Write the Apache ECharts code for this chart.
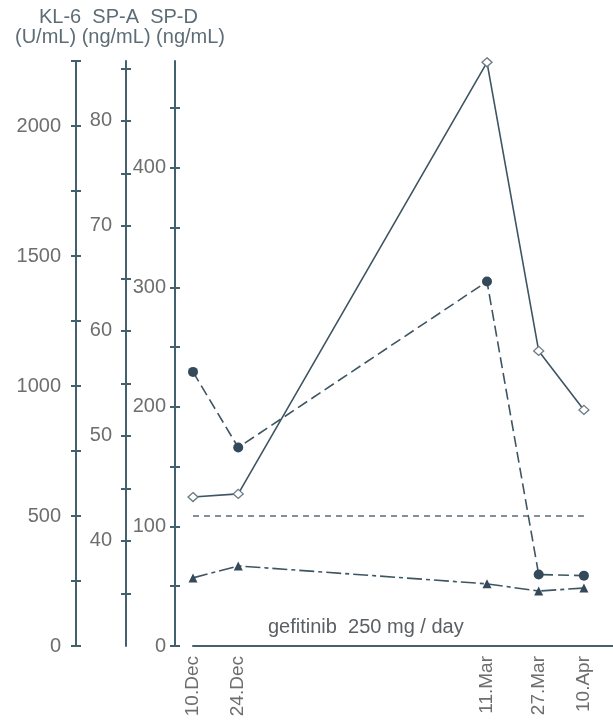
<!DOCTYPE html>
<html>
<head>
<meta charset="utf-8">
<title>KL-6 / SP-A / SP-D</title>
<script src="https://cdn.jsdelivr.net/npm/echarts/dist/echarts.min.js"></script>
<style>
  html, body { margin: 0; padding: 0; background: #fff; }
  #main { width: 613px; height: 727px; }
</style>
</head>
<body>
<div id="main"></div>
<script>
// sampling dates (days from 10.Dec) and their labels
const dateLabels = ['10.Dec', '24.Dec', '11.Mar', '27.Mar', '10.Apr'];
const dayOffsets = [0, 14, 91, 107, 121];

// series values
const kl6Values = [573, 585, 2245, 1135, 908];     // U/mL, open diamonds
const spAValues = [56.1, 48.9, 64.7, 36.8, 36.7];  // ng/mL, filled circles
const spDValues = [57, 67, 52, 46, 48.5];          // ng/mL, filled triangles
const kl6Cutoff = [500, 500];                      // reference line
const cutoffDays = [0, 121];

// axis ticks / labels
const kl6Ticks = [0, 250, 500, 750, 1000, 1250, 1500, 1750, 2000, 2250];
const kl6Labels = [0, 500, 1000, 1500, 2000];
const spATicks = [35, 40, 45, 50, 55, 60, 65, 70, 75, 80, 85];
const spALabels = [40, 50, 60, 70, 80];
const spDTicks = [0, 50, 100, 150, 200, 250, 300, 350, 400, 450];
const spDLabels = [0, 100, 200, 300, 400];

const axisColor = '#43606f';
const lineColor = '#3e5563';
const textColor = '#6e6e6e';
const fontFamily = 'Liberation Sans, Arial, sans-serif';

function pairs(xs, ys) {
  return xs.map((x, i) => [x, ys[i]]);
}

// main axis (line + labels + outer ticks) and a twin with inner ticks => "+" ticks
function yAxisPair(opt) {
  const base = {
    type: 'value',
    position: 'left',
    offset: opt.offset,
    min: opt.min,
    max: opt.max,
    splitLine: { show: false }
  };
  const main = Object.assign({}, base, {
    axisLine: { show: true, onZero: false, lineStyle: { color: axisColor, width: 2 } },
    axisTick: { show: true, inside: false, length: 5, customValues: opt.ticks, lineStyle: { color: axisColor, width: 2 } },
    axisLabel: {
      show: true, customValues: opt.labels, margin: opt.margin,
      color: textColor, fontSize: 20, fontFamily: fontFamily,
      formatter: function (v) { return String(v); }
    }
  });
  const twin = Object.assign({}, base, {
    axisLine: { show: false, onZero: false },
    axisTick: { show: true, inside: true, length: 5, customValues: opt.ticks, lineStyle: { color: axisColor, width: 2 } },
    axisLabel: { show: false }
  });
  return [main, twin];
}

const kl6Axes = yAxisPair({ offset: 117, min: 0, max: 2250, ticks: kl6Ticks, labels: kl6Labels, margin: 15 });
const spAAxes = yAxisPair({ offset: 67, min: 30, max: 85.7, ticks: spATicks, labels: spALabels, margin: 14 });
const spDAxes = yAxisPair({ offset: 18, min: 0, max: 489.5, ticks: spDTicks, labels: spDLabels, margin: 9 });

const chart = echarts.init(document.getElementById('main'));

const option = {
  animation: false,
  grid: { left: 193, right: 0, top: 61, bottom: 81, containLabel: false },
  xAxis: {
    type: 'value',
    min: 0,
    max: 130,
    splitLine: { show: false },
    axisLine: { show: true, onZero: false, lineStyle: { color: axisColor, width: 2 } },
    axisTick: { show: false },
    axisLabel: {
      customValues: dayOffsets,
      rotate: 90,
      margin: 10,
      color: textColor,
      fontSize: 19,
      fontFamily: fontFamily,
      formatter: function (v) {
        const i = dayOffsets.indexOf(v);
        return i >= 0 ? dateLabels[i] : '';
      }
    }
  },
  yAxis: [kl6Axes[0], spAAxes[0], spDAxes[0], kl6Axes[1], spAAxes[1], spDAxes[1]],
  series: [
    {
      name: 'KL-6',
      type: 'line',
      yAxisIndex: 0,
      data: pairs(dayOffsets, kl6Values),
      symbol: 'diamond',
      symbolSize: [10, 9],
      itemStyle: { color: '#ffffff', borderColor: '#6a7a84', borderWidth: 1.3 },
      lineStyle: { color: lineColor, width: 1.6, type: 'solid' },
      z: 3
    },
    {
      name: 'SP-A',
      type: 'line',
      yAxisIndex: 1,
      data: pairs(dayOffsets, spAValues),
      symbol: 'circle',
      symbolSize: 10,
      itemStyle: { color: '#34495a' },
      lineStyle: { color: lineColor, width: 1.6, type: [11, 5] },
      z: 3
    },
    {
      name: 'SP-D',
      type: 'line',
      yAxisIndex: 2,
      data: pairs(dayOffsets, spDValues),
      symbol: 'triangle',
      symbolSize: 9,
      itemStyle: { color: '#34495a' },
      lineStyle: { color: lineColor, width: 1.6, type: [15, 4, 4, 4] },
      z: 3
    },
    {
      name: 'cutoff',
      type: 'line',
      yAxisIndex: 0,
      data: pairs(cutoffDays, kl6Cutoff),
      showSymbol: false,
      symbol: 'none',
      lineStyle: { color: '#586c78', width: 1.6, type: [6, 5] },
      z: 2
    }
  ],
  graphic: [
    {
      type: 'text', left: 39, top: 7,
      style: { text: 'KL-6  SP-A  SP-D', font: '20px ' + fontFamily, fill: '#5d6d76' }
    },
    {
      type: 'text', left: 15, top: 27,
      style: { text: '(U/mL) (ng/mL) (ng/mL)', font: '20px ' + fontFamily, fill: '#5d6d76' }
    },
    {
      type: 'text', left: 268, top: 617,
      style: { text: 'gefitinib  250 mg / day', font: '20px ' + fontFamily, fill: '#5a5f63' }
    }
  ]
};

chart.setOption(option);
</script>
</body>
</html>
